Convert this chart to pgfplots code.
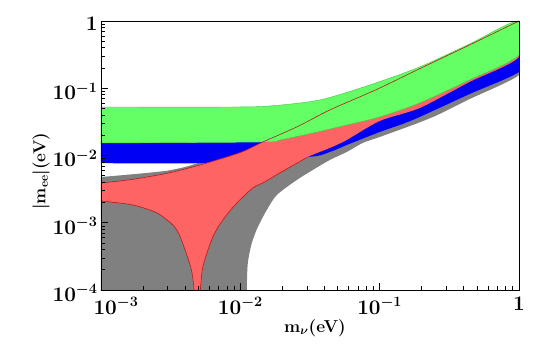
\documentclass[border=0pt]{standalone}
\usepackage{pgfplots}
\pgfplotsset{compat=1.18}
\definecolor{cGray}{RGB}{128,128,128}
\definecolor{cRed}{RGB}{255,100,100}
\definecolor{cBlue}{RGB}{0,0,245}
\definecolor{cGreen}{RGB}{100,255,100}
\definecolor{cLine}{RGB}{185,25,25}
\definecolor{cGreenEdge}{RGB}{60,200,60}

\begin{document}
\begin{tikzpicture}
\useasboundingbox (-101pt,-69pt) rectangle (440pt,290pt);
\begin{axis}[
    xmode=log, ymode=log,
    scale only axis, width=418pt, height=269pt,
    xmin=1e-3, xmax=1, ymin=1e-4, ymax=1,
    axis on top,
    xtick pos=bottom, ytick pos=left, tick align=inside,
    major tick length=7pt, minor tick length=4pt,
    axis line style={line width=0.9pt}, tick style={black, line width=0.6pt},
    xtick={1e-3,1e-2,1e-1,1},
    xticklabels={\hspace*{30pt}$10^{-3}$,$10^{-2}$,$10^{-1}$,$1$},
    ytick={1e-4,1e-3,1e-2,1e-1,1},
    yticklabels={$10^{-4}$,$10^{-3}$,$10^{-2}$,$10^{-1}$,$1$},
    tick label style={font=\huge\bfseries\boldmath},
    xticklabel style={yshift=-4pt},
    yticklabel style={yshift=-3pt},
    xlabel={m$_{\nu}$(eV)},
    ylabel={$|$m$_{\mathbf{ee}}$$|$(eV)},
    every axis x label/.style={at={(axis description cs:0.512,-0.141)}, anchor=center, font=\LARGE\bfseries\boldmath},
    every axis y label/.style={at={(axis description cs:-0.1435,0.442)}, rotate=90, anchor=center, font=\LARGE\bfseries\boldmath},
    every axis plot/.append style={smooth, tension=0.45},
]
% gray region
\addplot[fill=cGray, draw=none] coordinates {
 (1e-3,1e-5) (0.0111,1e-5) (0.01113,1e-4) (0.01132,2.52e-4) (0.01209,5.0e-4) (0.01335,8.65e-4)
 (0.01549,1.55e-3) (0.01827,2.59e-3) (0.0254,4.32e-3) (0.0331,6.09e-3) (0.0438,8.57e-3)
 (0.058,0.01127) (0.0755,0.01535) (0.1,0.01884) (0.1724,0.0284) (0.2563,0.0395)
 (0.4416,0.069) (1,0.157)
 (1,0.312) (0.4416,0.1327) (0.1935,0.0604) (0.1,0.0374) (0.058,0.0284) (0.0331,0.0216)
 (0.0192,0.017) (0.01449,0.01588) (0.006,0.0125) (5.13e-3,8.0e-3) (2.97e-3,5.94e-3)
 (1e-3,4.79e-3)
} -- cycle;
% blue region
\addplot[fill=cBlue, draw=none] coordinates {
 (1e-3,0.01535) (0.01449,0.01588) (0.0192,0.017) (0.0331,0.0216) (0.058,0.0284)
 (0.1,0.0374) (0.1935,0.0604) (0.4416,0.1327) (1,0.312)
 (1,0.175) (0.4416,0.082) (0.1724,0.0337) (0.1,0.02235) (0.058,0.01432)
 (0.0438,0.01127) (0.0305,9.5e-3) (5.13e-3,7.7e-3) (1e-3,7.7e-3)
} -- cycle;
% red region
\addplot[fill=cRed, draw=none] coordinates {
 (1e-3,3.9e-3) (1.696e-3,4.43e-3) (2.97e-3,5.43e-3) (5.13e-3,7.23e-3) (9.92e-3,0.01101)
 (0.01449,0.01588) (0.0254,0.02654) (0.0438,0.0475) (0.0952,0.096) (0.1935,0.195)
 (0.4416,0.44) (1,1.0)
 (1,0.292) (0.4416,0.124) (0.1935,0.0508) (0.1,0.0326) (0.058,0.017) (0.0438,0.01293)
 (0.0305,9.5e-3) (0.0192,5.5e-3) (0.01449,3.9e-3) (0.0123,3.29e-3) (9.44e-3,1.967e-3)
 (7.49e-3,1.099e-3) (6.35e-3,6.14e-4) (5.38e-3,2.2e-4) (5.13e-3,0.8e-4) (4.72e-3,0.8e-4)
 (4.49e-3,1.85e-4) (4.13e-3,3.31e-4) (3.68e-3,6.35e-4) (3.28e-3,9.26e-4)
 (2.52e-3,1.397e-3) (1.696e-3,1.837e-3) (1e-3,2.105e-3)
} -- cycle;
% green region
\addplot[fill=cGreen, draw=cGreenEdge, line width=0.4pt] coordinates {
 (1e-3,0.0526) (8.41e-3,0.0526) (0.01627,0.0545) (0.0371,0.0669) (0.0848,0.1117)
 (0.1935,0.207) (0.4416,0.455) (1,1.0)
 (1,0.312) (0.4416,0.1327) (0.1935,0.0604) (0.1,0.0374) (0.058,0.0284) (0.0331,0.0216)
 (0.0192,0.017) (0.01449,0.01588) (1e-3,0.01535)
} -- cycle;
% red region boundaries
\addplot[cLine, line width=0.6pt] coordinates {
 (1e-3,3.9e-3) (1.696e-3,4.43e-3) (2.97e-3,5.43e-3) (5.13e-3,7.23e-3) (9.92e-3,0.01101)
 (0.01449,0.01588) (0.0254,0.02654) (0.0438,0.0475) (0.0952,0.096) (0.1935,0.195)
 (0.4416,0.44) (1,1.0)
};
\addplot[cLine, line width=0.6pt] coordinates {
 (1e-3,2.105e-3) (1.696e-3,1.837e-3) (2.52e-3,1.397e-3) (3.28e-3,9.26e-4) (3.68e-3,6.35e-4)
 (4.13e-3,3.31e-4) (4.49e-3,1.85e-4) (4.72e-3,0.8e-4)
};
\addplot[cLine, line width=0.6pt] coordinates {
 (5.13e-3,0.8e-4) (5.38e-3,2.2e-4) (6.35e-3,6.14e-4) (7.49e-3,1.099e-3) (9.44e-3,1.967e-3)
 (0.0123,3.29e-3) (0.01449,3.9e-3) (0.0192,5.5e-3) (0.0305,9.5e-3)
};
\end{axis}
\end{tikzpicture}
\end{document}
